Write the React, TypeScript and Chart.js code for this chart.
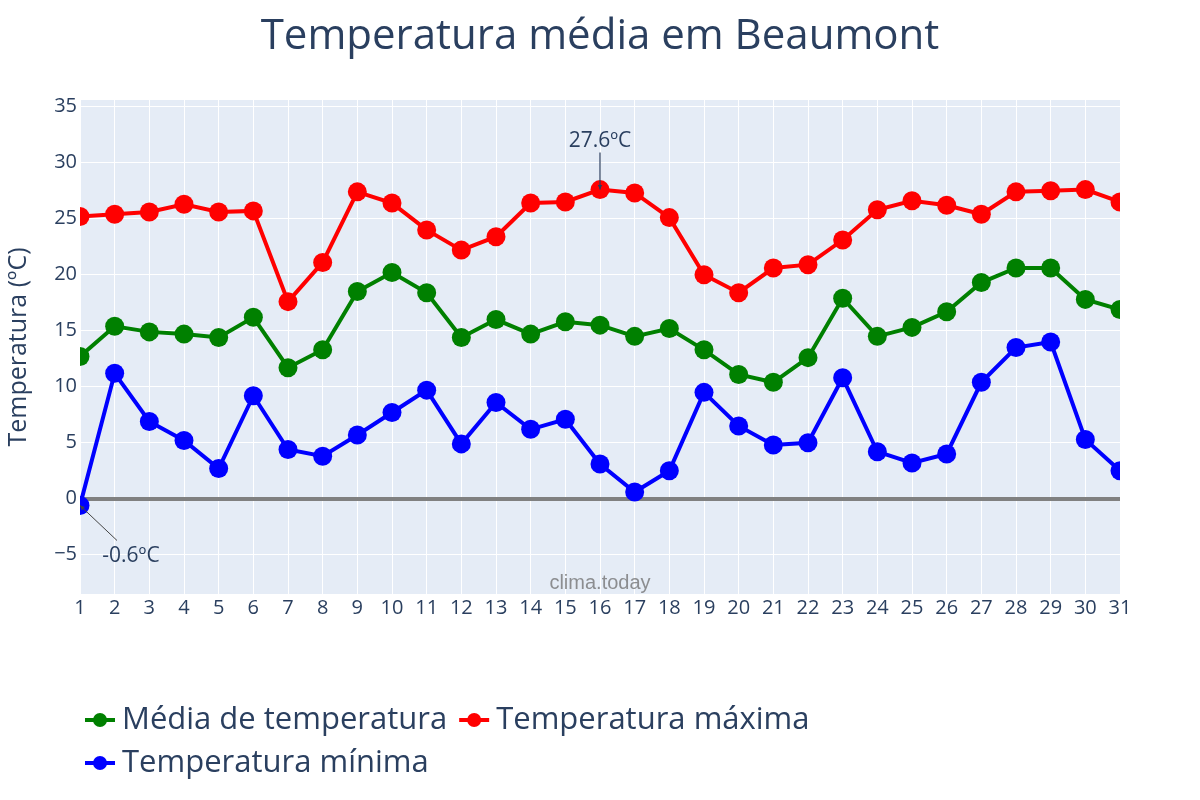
import React, { useEffect, useRef } from "react";
import { Chart, registerables } from "chart.js";

Chart.register(...registerables);

const chartTitle = "Temperatura média em Beaumont";
const yAxisTitle = "Temperatura (ºC)";
const watermark = "clima.today";

const days = [
  "1", "2", "3", "4", "5", "6", "7", "8", "9", "10", "11", "12", "13", "14", "15", "16",
  "17", "18", "19", "20", "21", "22", "23", "24", "25", "26", "27", "28", "29", "30", "31",
];

const mediaTemp = [
  12.7, 15.4, 14.9, 14.7, 14.4, 16.2, 11.7, 13.3, 18.5, 20.2, 18.4, 14.4, 16.0, 14.7, 15.8, 15.5,
  14.5, 15.2, 13.3, 11.1, 10.4, 12.6, 17.9, 14.5, 15.3, 16.7, 19.3, 20.6, 20.6, 17.8, 16.9,
];

const maxTemp = [
  25.2, 25.4, 25.6, 26.3, 25.6, 25.7, 17.6, 21.1, 27.4, 26.4, 24.0, 22.2, 23.4, 26.4, 26.5, 27.6,
  27.3, 25.1, 20.0, 18.4, 20.6, 20.9, 23.1, 25.8, 26.6, 26.2, 25.4, 27.4, 27.5, 27.6, 26.5,
];

const minTemp = [
  -0.6, 11.2, 6.9, 5.2, 2.7, 9.2, 4.4, 3.8, 5.7, 7.7, 9.7, 4.9, 8.6, 6.2, 7.1, 3.1,
  0.6, 2.5, 9.5, 6.5, 4.8, 5.0, 10.8, 4.2, 3.2, 4.0, 10.4, 13.5, 14.0, 5.3, 2.5,
];

const seriesLabels = ["Média de temperatura", "Temperatura máxima", "Temperatura mínima"];
const seriesColors = ["#008000", "#ff0000", "#0000ff"];

const yMin = -8.5;
const yMax = 35.6;
const yStep = 5;

const PLOT_BG = "#e5ecf6";
const TEXT = "#2a3f5f";
const FONT = "'Open Sans', verdana, arial, sans-serif";

const fmt = (v: number) => `${v.toFixed(1)}ºC`;

const plotBgPlugin = {
  id: "plotBg",
  beforeDraw(chart: any) {
    const { ctx, chartArea: a } = chart;
    ctx.save();
    ctx.fillStyle = PLOT_BG;
    ctx.fillRect(a.left, a.top, a.right - a.left, a.bottom - a.top);
    ctx.restore();
  },
};

const titlePlugin = {
  id: "customTitle",
  afterDraw(chart: any) {
    const { ctx, width } = chart;
    ctx.save();
    ctx.font = `42px ${FONT}`;
    ctx.fillStyle = TEXT;
    ctx.textAlign = "center";
    ctx.textBaseline = "middle";
    ctx.fillText(chartTitle, width / 2, 37);
    ctx.restore();
  },
};

const watermarkPlugin = {
  id: "watermark",
  beforeDatasetsDraw(chart: any) {
    const { ctx, chartArea: a } = chart;
    ctx.save();
    ctx.font = `20px 'Liberation Sans', Arial, sans-serif`;
    ctx.fillStyle = "rgba(110,110,110,0.75)";
    ctx.textAlign = "center";
    ctx.textBaseline = "middle";
    ctx.fillText(watermark, (a.left + a.right) / 2, a.bottom - 11);
    ctx.restore();
  },
};

function drawArrow(ctx: any, x1: number, y1: number, x2: number, y2: number) {
  ctx.beginPath();
  ctx.moveTo(x1, y1);
  ctx.lineTo(x2, y2);
  ctx.stroke();
  const ang = Math.atan2(y2 - y1, x2 - x1);
  const L = 5;
  ctx.beginPath();
  ctx.moveTo(x2, y2);
  ctx.lineTo(x2 - L * Math.cos(ang - 0.45), y2 - L * Math.sin(ang - 0.45));
  ctx.lineTo(x2 - L * Math.cos(ang + 0.45), y2 - L * Math.sin(ang + 0.45));
  ctx.closePath();
  ctx.fill();
}

const annotationPlugin = {
  id: "extremes",
  afterDatasetsDraw(chart: any) {
    const { ctx, scales } = chart;
    const xs = scales.x;
    const ys = scales.y;
    const maxVal = Math.max(...maxTemp);
    const maxIdx = maxTemp.indexOf(maxVal);
    const minVal = Math.min(...minTemp);
    const minIdx = minTemp.indexOf(minVal);
    ctx.save();
    ctx.font = `21px ${FONT}`;
    ctx.fillStyle = TEXT;
    ctx.strokeStyle = TEXT;
    ctx.lineWidth = 1.2;
    ctx.textAlign = "center";
    ctx.textBaseline = "middle";
    let px = xs.getPixelForValue(maxIdx);
    let py = ys.getPixelForValue(maxVal);
    drawArrow(ctx, px, py - 37, px, py);
    ctx.fillText(fmt(maxVal), px, py - 49);
    px = xs.getPixelForValue(minIdx);
    py = ys.getPixelForValue(minVal);
    ctx.lineWidth = 1;
    ctx.strokeStyle = "#444";
    ctx.fillStyle = "#444";
    drawArrow(ctx, px + 37, py + 35, px, py);
    ctx.fillStyle = TEXT;
    ctx.fillText(fmt(minVal), px + 51, py + 51);
    ctx.restore();
  },
};

const legendPlugin = {
  id: "customLegend",
  afterDraw(chart: any) {
    const { ctx } = chart;
    const datasets = chart.data.datasets;
    ctx.save();
    ctx.font = `31px ${FONT}`;
    ctx.textBaseline = "middle";
    ctx.textAlign = "left";
    const startX = 85;
    const maxX = 1120;
    const rowYs = [720, 763];
    let x = startX;
    let row = 0;
    datasets.forEach((ds: any) => {
      const tw = ctx.measureText(ds.label).width;
      const itemW = 37 + tw;
      if (x > startX && x + itemW > maxX) {
        row += 1;
        x = startX;
      }
      const y = rowYs[row];
      ctx.strokeStyle = ds.borderColor;
      ctx.fillStyle = ds.borderColor;
      ctx.lineWidth = 4;
      ctx.beginPath();
      ctx.moveTo(x, y);
      ctx.lineTo(x + 30, y);
      ctx.stroke();
      ctx.beginPath();
      ctx.arc(x + 15, y, 7, 0, Math.PI * 2);
      ctx.fill();
      ctx.fillStyle = TEXT;
      ctx.fillText(ds.label, x + 37, y);
      x += itemW + 12;
    });
    ctx.restore();
  },
};

export default function App() {
  const canvasRef = useRef<HTMLCanvasElement | null>(null);

  useEffect(() => {
    if (!canvasRef.current) return;
    const values = [mediaTemp, maxTemp, minTemp];
    const chart = new Chart(canvasRef.current, {
      type: "line",
      data: {
        labels: days,
        datasets: values.map((v, i) => ({
          label: seriesLabels[i],
          data: v,
          borderColor: seriesColors[i],
          backgroundColor: seriesColors[i],
          pointBackgroundColor: seriesColors[i],
          pointBorderWidth: 0,
          pointRadius: 9.5,
          pointHoverRadius: 9.5,
          borderWidth: 4,
          tension: 0,
          fill: false,
          clip: 0,
          order: 3 - i,
        })),
      },
      options: {
        responsive: false,
        animation: false,
        devicePixelRatio: 1,
        layout: { padding: { left: 0, right: 80, top: 100, bottom: 166 } },
        plugins: {
          legend: { display: false },
          title: { display: false },
          tooltip: { enabled: false },
        },
        scales: {
          x: {
            type: "category",
            offset: false,
            grid: { color: "#ffffff", lineWidth: 1, drawTicks: false },
            border: { display: false },
            ticks: {
              color: TEXT,
              font: { family: FONT, size: 20 },
              padding: 2,
              maxRotation: 0,
              autoSkip: false,
            },
            afterFit(scale: any) {
              scale.height = 40;
            },
          },
          y: {
            type: "linear",
            min: yMin,
            max: yMax,
            grid: {
              color: (c: any) => (c.tick && c.tick.value === 0 ? "#808080" : "#ffffff"),
              lineWidth: (c: any) => (c.tick && c.tick.value === 0 ? 4 : 1),
              drawTicks: false,
            },
            border: { display: false },
            ticks: {
              stepSize: yStep,
              includeBounds: false,
              color: TEXT,
              font: { family: FONT, size: 20 },
              padding: 3,
              callback: (v: any) => (Number(v) < 0 ? `\u2212${Math.abs(Number(v))}` : `${v}`),
            },
            title: {
              display: true,
              text: yAxisTitle,
              color: TEXT,
              font: { family: FONT, size: 25 },
              padding: { top: 4, bottom: 0 },
            },
            afterFit(scale: any) {
              scale.width = 80;
            },
          },
        },
      },
      plugins: [plotBgPlugin, watermarkPlugin, annotationPlugin, titlePlugin, legendPlugin],
    });
    return () => chart.destroy();
  }, []);

  return (
    <div style={{ position: "absolute", left: 0, top: 0, width: 1200, height: 800, background: "#fff" }}>
      <canvas ref={canvasRef} width={1200} height={800} style={{ width: 1200, height: 800 }} />
    </div>
  );
}
